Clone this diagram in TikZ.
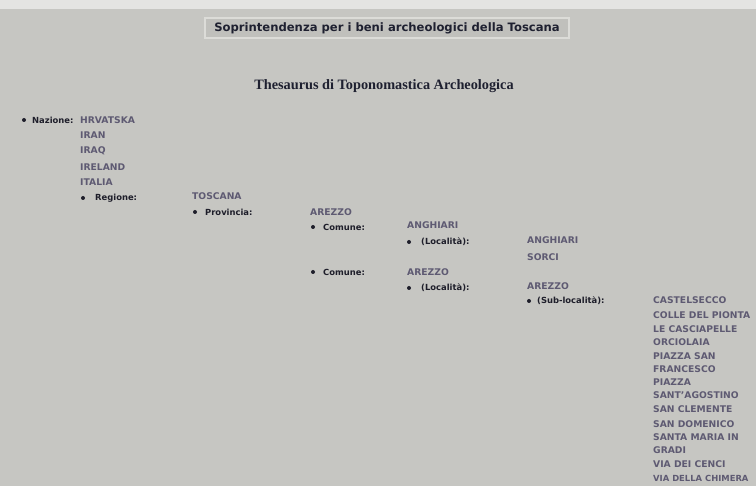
\documentclass[tikz,border=0pt]{standalone}
\usepackage{fontspec}
\setmainfont{DejaVu Sans}
\newfontfamily\serifbold{Liberation Serif}
\usepackage{xcolor}
\usepackage{tikz}
\usetikzlibrary{positioning}
\definecolor{pagegray}{HTML}{C6C6C2}
\definecolor{topband}{HTML}{E4E4E2}
\definecolor{boxfill}{HTML}{C0C0BC}
\definecolor{boxline}{HTML}{DCDCD8}
\definecolor{navy}{HTML}{1E2030}
\definecolor{valtext}{HTML}{5E5A72}
\definecolor{labtext}{HTML}{1E1E2A}

\tikzset{
  val/.style={anchor=west, inner sep=0pt, align=left, font=\fontsize{9.2}{12.8}\selectfont\bfseries\color{valtext}},
  lab/.style={anchor=west, inner sep=0pt, font=\fontsize{8.4}{9}\selectfont\bfseries\color{labtext}},
  bul/.style={circle, fill=labtext, inner sep=0pt, minimum size=4pt}
}

\begin{document}
\begin{tikzpicture}[x=1pt, y=-1pt]

% Page
\fill[pagegray] (0,0) rectangle (756,486);
\useasboundingbox (0,0) rectangle (756,486);
\clip (0,0) rectangle (756,486);
\fill[topband] (0,0) rectangle (756,9);

% Header
\node[rectangle, fill=boxfill, draw=boxline, line width=1.2pt, minimum width=364pt, minimum height=20pt, inner sep=0pt, font=\fontsize{11.6}{13}\selectfont\bfseries\color{navy}] (header) at (387, 28) {Soprintendenza per i beni archeologici della Toscana};

\node[font=\fontsize{14.3}{16}\selectfont\serifbold\bfseries\color{navy}] (thesaurus) at (384, 86) {Thesaurus di Toponomastica Archeologica};

% Nazione
\node[bul] (b1) at (24, 120) {};
\node[lab] (nazione) at (32, 120) {Nazione:};
\node[val] (n1) at (80, 120) {HRVATSKA};
\node[val] (n2) at (80, 135) {IRAN};
\node[val] (n3) at (80, 151) {IRAQ};
\node[val] (n4) at (80, 167) {IRELAND};
\node[val] (n5) at (80, 182) {ITALIA};

% Regione
\node[bul] (b2) at (83, 198) {};
\node[lab] (regione) at (95, 198) {Regione:};
\node[val] (r1) at (192, 196) {TOSCANA};

% Provincia
\node[bul] (b3) at (195, 212) {};
\node[lab] (provincia) at (205, 212) {Provincia:};
\node[val] (p1) at (310, 212) {AREZZO};

% Comune
\node[bul] (b4) at (313, 227) {};
\node[lab] (comune1) at (323, 227) {Comune:};
\node[val] (c1) at (407, 225) {ANGHIARI};
\node[bul] (b5) at (313, 272) {};
\node[lab] (comune2) at (323, 272) {Comune:};
\node[val] (c2) at (407, 272) {AREZZO};

% Localita
\node[bul] (b6) at (409, 242) {};
\node[lab] (loc1) at (421, 242) {(Località):};
\node[val] (l1) at (527, 240) {ANGHIARI};
\node[val] (l2) at (527, 257) {SORCI};
\node[bul] (b7) at (409, 288) {};
\node[lab] (loc2) at (421, 288) {(Località):};
\node[val] (l3) at (527, 286) {AREZZO};

% Sub-localita
\node[bul] (b8) at (529, 301) {};
\node[lab] (subloc) at (537, 301) {(Sub-località):};
\node[val] (s1) at (653, 300) {CASTELSECCO};
\node[val] (s2) at (653, 315) {COLLE DEL PIONTA};
\node[val] (s3) at (653, 335.5) {LE CASCIAPELLE\\ORCIOLAIA};
\node[val] (s4) at (653, 362.5) {PIAZZA SAN\\FRANCESCO};
\node[val] (s5) at (653, 388.5) {PIAZZA\\SANT'AGOSTINO};
\node[val] (s6) at (653, 409) {SAN CLEMENTE};
\node[val] (s7) at (653, 424) {SAN DOMENICO};
\node[val] (s8) at (653, 443.5) {SANTA MARIA IN\\GRADI};
\node[val] (s9) at (653, 464) {VIA DEI CENCI};
\node[val, font=\fontsize{8.4}{10}\selectfont\bfseries\color{valtext}] (s10) at (653, 478) {VIA DELLA CHIMERA};

\end{tikzpicture}
\end{document}
